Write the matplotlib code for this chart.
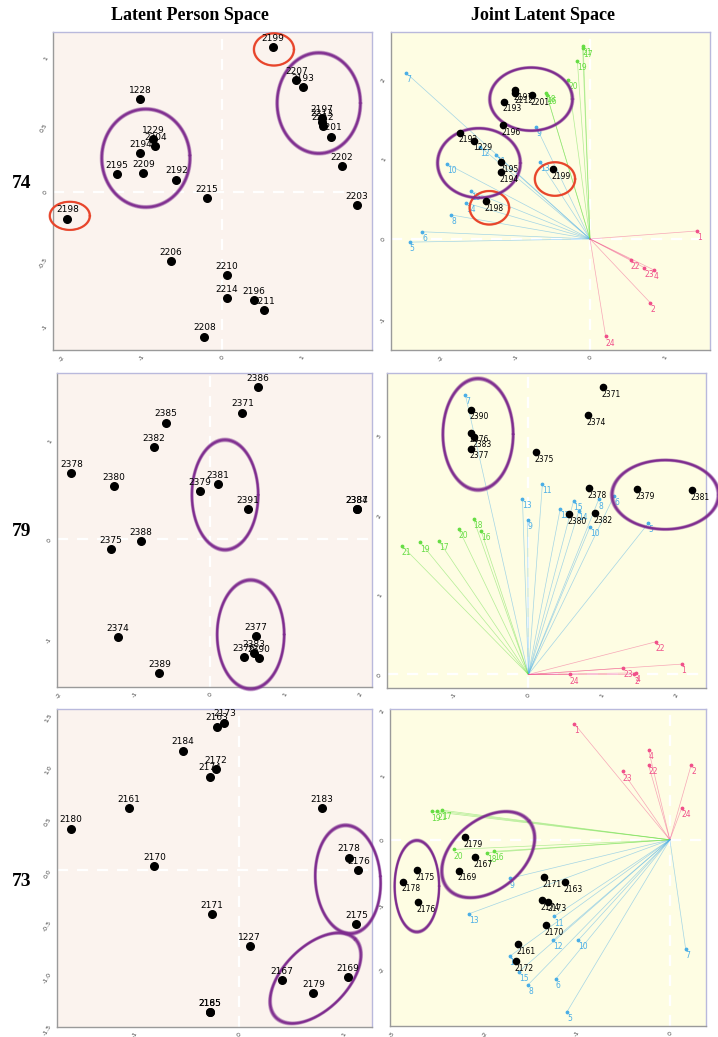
import matplotlib
matplotlib.use('Agg')
import matplotlib.pyplot as plt
import numpy as np

# ---- group 74 : latent person space
p74_ids = ['2199', '2207', '2193', '2197', '2213', '2212', '2201', '2202', '2203', '1228', '1229', '2204',
           '2194', '2195', '2209', '2192', '2215', '2198', '2206', '2210', '2214', '2196', '2211', '2208']
p74_x = [0.64, 0.93, 1.01, 1.25, 1.25, 1.26, 1.36, 1.50, 1.69, -1.02, -0.86, -0.83,
         -1.02, -1.31, -0.98, -0.57, -0.19, -1.93, -0.64, 0.06, 0.06, 0.40, 0.52, -0.22]
p74_y = [1.075, 0.83, 0.78, 0.55, 0.52, 0.49, 0.41, 0.19, -0.10, 0.69, 0.39, 0.34,
         0.29, 0.13, 0.14, 0.09, -0.05, -0.20, -0.52, -0.62, -0.79, -0.81, -0.88, -1.08]

# ---- group 74 : joint latent space
j74_ids = ['2197', '2212', '2201', '2193', '2196', '2192', '1229', '2195', '2194', '2199', '2198']
j74_x = [-1.01, -1.00, -0.78, -1.16, -1.17, -1.74, -1.55, -1.19, -1.19, -0.50, -1.40]
j74_y = [1.86, 1.83, 1.80, 1.72, 1.42, 1.33, 1.23, 0.96, 0.84, 0.875, 0.475]
j74_items = ['7', '10', '12', '11', '9', '13', '15', '14', '8', '6', '5',
             '16', '17', '18', '19', '20', '21', '1', '22', '23', '4', '2', '24']
j74_item_x = [-2.47, -1.92, -1.47, -1.26, -0.72, -0.67, -1.60, -1.66, -1.86, -2.25, -2.42,
              -0.58, -0.09, -0.59, -0.17, -0.29, -0.10, 1.44, 0.55, 0.73, 0.86, 0.81, 0.21]
j74_item_y = [2.08, 0.94, 1.15, 1.05, 1.40, 0.96, 0.60, 0.45, 0.30, 0.09, -0.04,
              1.80, 2.39, 1.83, 2.23, 1.99, 2.41, 0.10, -0.26, -0.36, -0.39, -0.80, -1.22]

# ---- group 79 : latent person space
p79_ids = ['2386', '2371', '2385', '2382', '2378', '2380', '2381', '2379', '2391', '2384', '2387',
           '2388', '2375', '2374', '2389', '2377', '2376', '2383', '2390']
p79_x = [0.64, 0.43, -0.58, -0.74, -1.84, -1.27, 0.11, -0.13, 0.50, 1.95, 1.95,
         -0.92, -1.31, -1.22, -0.67, 0.61, 0.45, 0.58, 0.65]
p79_y = [1.54, 1.28, 1.18, 0.93, 0.67, 0.54, 0.56, 0.49, 0.31, 0.31, 0.31,
         -0.02, -0.10, -0.99, -1.35, -0.98, -1.19, -1.15, -1.20]

# ---- group 79 : joint latent space
j79_ids = ['2371', '2374', '2390', '2376', '2383', '2377', '2375', '2378', '2380', '2382', '2379', '2381']
j79_x = [1.01, 0.80, -0.77, -0.77, -0.73, -0.77, 0.10, 0.82, 0.55, 0.90, 1.47, 2.21]
j79_y = [3.61, 3.26, 3.33, 3.04, 2.98, 2.84, 2.80, 2.34, 2.02, 2.03, 2.33, 2.32]
j79_items = ['7', '11', '13', '9', '12', '15', '14', '8', '10', '6', '5',
             '21', '19', '17', '20', '18', '16', '22', '1', '23', '2', '4', '24']
j79_item_x = [-0.85, 0.19, -0.08, -0.01, 0.43, 0.61, 0.68, 0.95, 0.83, 1.16, 1.62,
              -1.71, -1.46, -1.21, -0.94, -0.74, -0.64, 1.72, 2.07, 1.28, 1.43, 1.45, 0.56]
j79_item_y = [3.51, 2.40, 2.21, 1.94, 2.08, 2.18, 2.05, 2.20, 1.85, 2.25, 1.90,
              1.62, 1.66, 1.68, 1.83, 1.95, 1.81, 0.41, 0.13, 0.08, 0.00, 0.02, 0.00]

# ---- group 73 : latent person space
p73_ids = ['2173', '2163', '2184', '2172', '2174', '2161', '2183', '2180', '2170', '2178', '2176',
           '2171', '2175', '1227', '2167', '2179', '2169', '2185', '2165']
p73_x = [-0.14, -0.21, -0.54, -0.22, -0.28, -1.05, 0.79, -1.61, -0.81, 1.05, 1.14,
         -0.26, 1.12, 0.10, 0.41, 0.71, 1.04, -0.28, -0.28]
p73_y = [1.42, 1.38, 1.15, 0.97, 0.90, 0.60, 0.60, 0.40, 0.035, 0.12, 0.0,
         -0.42, -0.52, -0.73, -1.06, -1.18, -1.03, -1.37, -1.37]

# ---- group 73 : joint latent space
j73_ids = ['2179', '2167', '2169', '2175', '2178', '2176', '2171', '2163', '2174', '2173', '2170', '2161', '2172']
j73_x = [-2.21, -2.10, -2.28, -2.73, -2.88, -2.72, -1.36, -1.13, -1.38, -1.31, -1.34, -1.64, -1.66]
j73_y = [0.04, -0.27, -0.48, -0.47, -0.65, -0.97, -0.58, -0.66, -0.94, -0.96, -1.32, -1.62, -1.88]
j73_items = ['1', '4', '22', '23', '2', '24', '19', '21', '17', '20', '18', '16',
             '9', '13', '11', '12', '10', '7', '14', '15', '8', '6', '5']
j73_item_x = [-1.03, -0.23, -0.23, -0.51, 0.23, 0.13, -2.57, -2.51, -2.46, -2.33, -1.97, -1.90,
              -1.73, -2.17, -1.25, -1.26, -0.99, 0.17, -1.73, -1.63, -1.53, -1.23, -1.11]
j73_item_y = [1.80, 1.40, 1.16, 1.06, 1.16, 0.50, 0.44, 0.45, 0.46, -0.15, -0.20, -0.18,
              -0.60, -1.15, -1.19, -1.56, -1.56, -1.69, -1.81, -2.05, -2.25, -2.16, -2.67]

# hand drawn rings: (centre, half axis u, half axis v, colour)
PURPLE = '#7d2a8e'
RED = '#e8442a'
rings = {
    'p74': [((-0.95, 0.25), (0.55, 0.02), (-0.03, 0.365), PURPLE),
            ((1.21, 0.66), (0.52, 0.0), (0.0, 0.375), PURPLE),
            ((0.65, 1.06), (0.25, 0.0), (0.0, 0.12), RED),
            ((-1.9, -0.18), (0.25, 0.0), (0.0, 0.105), RED)],
    'j74': [((-0.47, 0.75), (0.27, 0.0), (0.0, 0.21), RED),
            ((-1.35, 0.39), (0.265, 0.0), (0.0, 0.21), RED),
            ((-0.79, 1.75), (0.555, 0.0), (0.0, 0.395), PURPLE),
            ((-1.49, 0.95), (0.555, 0.0), (0.0, 0.435), PURPLE)],
    'p79': [((0.20, 0.45), (0.44, 0.0), (0.0, 0.555), PURPLE),
            ((0.54, -0.96), (0.445, 0.0), (0.0, 0.55), PURPLE)],
    'j79': [((-0.68, 3.02), (0.475, 0.0), (0.0, 0.70), PURPLE),
            ((1.85, 2.26), (0.72, 0.0), (0.0, 0.435), PURPLE)],
    'p73': [((1.04, -0.09), (0.31, 0.03), (-0.04, 0.52), PURPLE),
            ((0.73, -1.04), (0.38, 0.376), (0.21, -0.22), PURPLE)],
    'j73': [((-2.73, -0.72), (0.24, 0.0), (0.0, 0.71), PURPLE),
            ((-1.96, -0.23), (0.44, 0.52), (0.24, -0.42), PURPLE)],
}

PERSON_BG = '#fbf3ee'
JOINT_BG = '#fefde3'
BLUE = '#4aaee6'
GREEN = '#66dd44'
PINK = '#f0508a'


def item_colour(lbl):
    n = int(lbl)
    if 5 <= n <= 15:
        return BLUE
    if 16 <= n <= 21:
        return GREEN
    return PINK


def draw_ring(ax, c, u, v, col):
    t = np.linspace(0, 2 * np.pi, 200)
    # a few close strokes give the brush look
    for k, a in zip([0.97, 0.985, 1.0, 1.015, 1.03], [0.35, 0.7, 0.95, 0.7, 0.35]):
        xs = c[0] + k * (u[0] * np.cos(t) + v[0] * np.sin(t))
        ys = c[1] + k * (u[1] * np.cos(t) + v[1] * np.sin(t))
        ax.plot(xs, ys, color=col, lw=1.1, alpha=a, zorder=4, clip_on=False)


def setup(ax, bg, xlim, ylim, xt, yt, yfmt='{:g}'):
    ax.set_facecolor(bg)
    ax.set_xlim(xlim)
    ax.set_ylim(ylim)
    ax.axhline(0, color='white', lw=1.6, ls=(0, (5, 4)), zorder=1)
    ax.axvline(0, color='white', lw=1.6, ls=(0, (5, 4)), zorder=1)
    ax.set_xticks(xt)
    ax.set_yticks(yt)
    ax.set_xticklabels(['{:g}'.format(v) for v in xt], rotation=60, fontsize=4.5, color='#444444')
    ax.set_yticklabels([yfmt.format(v) for v in yt], rotation=60, fontsize=4.5, color='#444444')
    ax.tick_params(length=0, pad=3)
    for s in ['left', 'bottom']:
        ax.spines[s].set_color('#9a9a9a')
        ax.spines[s].set_linewidth(1.0)
    for s in ['top', 'right']:
        ax.spines[s].set_color('#b9b9dc')
        ax.spines[s].set_linewidth(1.0)


def person_panel(ax, ids, xs, ys, key):
    ax.scatter(xs, ys, s=30, color='black', zorder=5)
    for lbl, x, y in zip(ids, xs, ys):
        ax.annotate(lbl, (x, y), xytext=(0, 3), textcoords='offset points',
                    ha='center', va='bottom', fontsize=6.5, zorder=6)
    for c, u, v, col in rings[key]:
        draw_ring(ax, c, u, v, col)


def joint_panel(ax, ids, xs, ys, items, ix, iy, key):
    for lbl, x, y in zip(items, ix, iy):
        col = item_colour(lbl)
        ax.plot([0, x], [0, y], color=col, lw=0.5, alpha=0.5, zorder=2)
        ax.scatter([x], [y], s=3, color=col, zorder=3)
        ax.annotate(lbl, (x, y), xytext=(0, -1.5), textcoords='offset points',
                    ha='left', va='top', fontsize=5.5, color=col, zorder=3)
    ax.scatter(xs, ys, s=20, color='black', zorder=5)
    for lbl, x, y in zip(ids, xs, ys):
        ax.annotate(lbl, (x, y), xytext=(-1, -2), textcoords='offset points',
                    ha='left', va='top', fontsize=5.5, zorder=6)
    for c, u, v, col in rings[key]:
        draw_ring(ax, c, u, v, col)


W, H = 718.0, 1037.0
fig = plt.figure(figsize=(W / 100, H / 100), dpi=100)


def box(l, r, t, b):
    return fig.add_axes([l / W, 1 - b / H, (r - l) / W, (b - t) / H])


ax1 = box(53, 372, 32, 350)
ax2 = box(391, 710, 32, 350)
ax3 = box(57, 372, 373, 687)
ax4 = box(387, 706, 373, 688)
ax5 = box(57, 372, 709, 1027)
ax6 = box(390, 706, 709, 1026)

setup(ax1, PERSON_BG, (-2.11, 1.875), (-1.18, 1.19), [-2, -1, 0, 1], [-1, -0.5, 0, 0.5, 1])
person_panel(ax1, p74_ids, p74_x, p74_y, 'p74')

setup(ax2, JOINT_BG, (-2.67, 1.61), (-1.39, 2.59), [-2, -1, 0, 1], [-1, 0, 1, 2])
joint_panel(ax2, j74_ids, j74_x, j74_y, j74_items, j74_item_x, j74_item_y, 'j74')

setup(ax3, PERSON_BG, (-2.03, 2.15), (-1.49, 1.68), [-2, -1, 0, 1, 2], [-1, 0, 1])
person_panel(ax3, p79_ids, p79_x, p79_y, 'p79')

setup(ax4, JOINT_BG, (-1.91, 2.40), (-0.17, 3.79), [-1, 0, 1, 2], [0, 1, 2, 3])
joint_panel(ax4, j79_ids, j79_x, j79_y, j79_items, j79_item_x, j79_item_y, 'j79')

setup(ax5, PERSON_BG, (-1.74, 1.27), (-1.51, 1.55), [-1, 0, 1],
      [-1.5, -1.0, -0.5, 0.0, 0.5, 1.0, 1.5], yfmt='{:.1f}')
person_panel(ax5, p73_ids, p73_x, p73_y, 'p73')

setup(ax6, JOINT_BG, (-3.02, 0.39), (-2.89, 2.03), [-3, -2, -1, 0], [-2, -1, 0, 1, 2])
joint_panel(ax6, j73_ids, j73_x, j73_y, j73_items, j73_item_x, j73_item_y, 'j73')

serif = ['Liberation Serif', 'DejaVu Serif']
fig.text(190 / W, 1 - 16 / H, 'Latent Person Space', ha='center', va='center',
         fontsize=13, fontweight='bold', family=serif)
fig.text(543 / W, 1 - 16 / H, 'Joint Latent Space', ha='center', va='center',
         fontsize=13, fontweight='bold', family=serif)
for lbl, yy in [('74', 183), ('79', 532), ('73', 882)]:
    fig.text(22 / W, 1 - yy / H, lbl, ha='center', va='center',
             fontsize=14, fontweight='bold', family=serif)

fig.savefig('out.png', dpi=100)
